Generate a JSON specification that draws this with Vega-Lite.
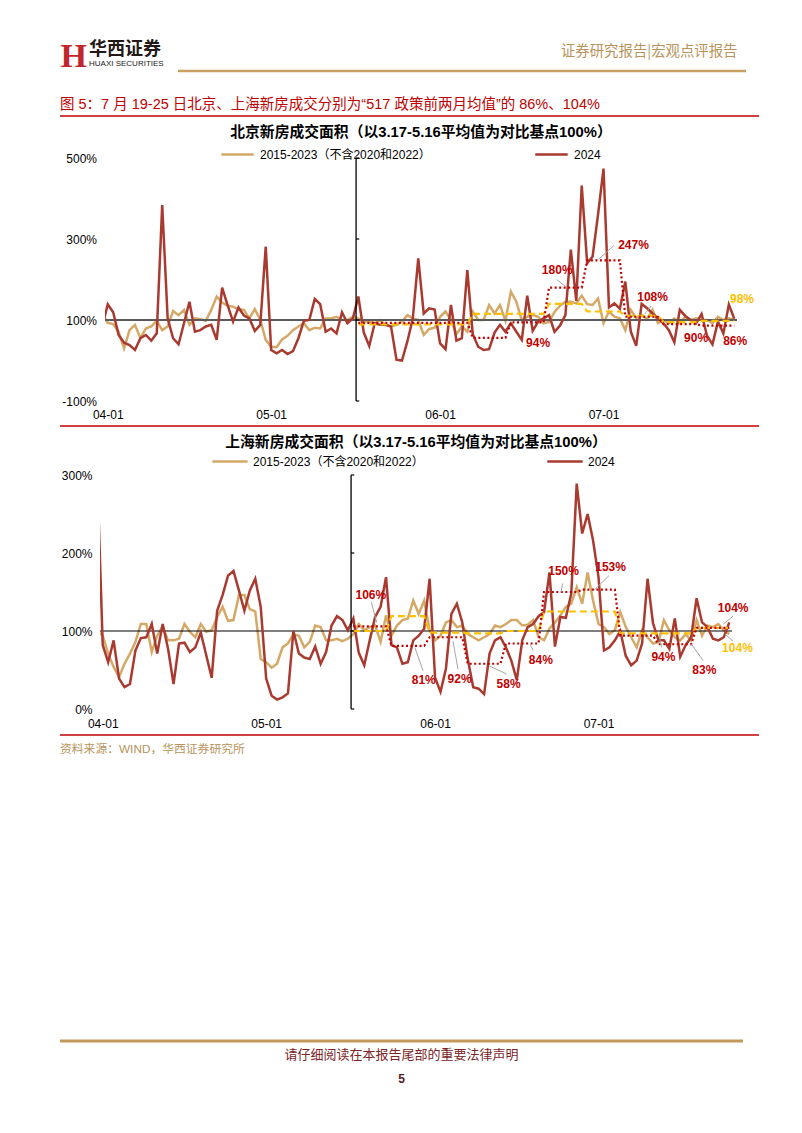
{
"$schema": "https://vega.github.io/schema/vega-lite/v6.json",
"background": "#ffffff",
"padding": {"left": 58, "top": 37, "right": 5, "bottom": 5},
"spacing": 20,
"columns": 1,
"align": "none",
"config": {
  "view": {"stroke": null},
  "font": "Liberation Sans, Noto Sans CJK SC",
  "axis": {"grid": false, "domain": false, "ticks": false, "labelFont": "Liberation Sans, Noto Sans CJK SC", "labelFontSize": 12, "labelColor": "#000000"},
  "title": {"font": "Liberation Sans, Noto Sans CJK SC"}
},
"datasets": {
  "bj": [
{"date":"2024-03-31","hist":115,"y2024":83},{"date":"2024-04-01","hist":93,"y2024":139},{"date":"2024-04-02","hist":90,"y2024":119},{"date":"2024-04-03","hist":71,"y2024":63},{"date":"2024-04-04","hist":30,"y2024":44},{"date":"2024-04-05","hist":75,"y2024":38},{"date":"2024-04-06","hist":88,"y2024":26},{"date":"2024-04-07","hist":55,"y2024":55},{"date":"2024-04-08","hist":79,"y2024":63},{"date":"2024-04-09","hist":84,"y2024":49},{"date":"2024-04-10","hist":98,"y2024":67},{"date":"2024-04-11","hist":75,"y2024":384},{"date":"2024-04-12","hist":84,"y2024":104},{"date":"2024-04-13","hist":122,"y2024":55},{"date":"2024-04-14","hist":112,"y2024":40},{"date":"2024-04-15","hist":125,"y2024":92},{"date":"2024-04-16","hist":88,"y2024":145},{"date":"2024-04-17","hist":104,"y2024":71},{"date":"2024-04-18","hist":102,"y2024":75},{"date":"2024-04-19","hist":98,"y2024":84},{"date":"2024-04-20","hist":125,"y2024":88},{"date":"2024-04-21","hist":158,"y2024":51},{"date":"2024-04-22","hist":143,"y2024":180},{"date":"2024-04-23","hist":135,"y2024":137},{"date":"2024-04-24","hist":133,"y2024":96},{"date":"2024-04-25","hist":126,"y2024":131},{"date":"2024-04-26","hist":125,"y2024":111},{"date":"2024-04-27","hist":104,"y2024":104},{"date":"2024-04-28","hist":127,"y2024":73},{"date":"2024-04-29","hist":100,"y2024":88},{"date":"2024-04-30","hist":51,"y2024":281},
{"date":"2024-05-01","hist":34,"y2024":26},{"date":"2024-05-02","hist":33,"y2024":18},{"date":"2024-05-03","hist":52,"y2024":26},{"date":"2024-05-04","hist":61,"y2024":16},{"date":"2024-05-05","hist":75,"y2024":23},{"date":"2024-05-06","hist":84,"y2024":55},{"date":"2024-05-07","hist":92,"y2024":98},{"date":"2024-05-08","hist":75,"y2024":100},{"date":"2024-05-09","hist":81,"y2024":152},{"date":"2024-05-10","hist":79,"y2024":139},{"date":"2024-05-11","hist":104,"y2024":71},{"date":"2024-05-12","hist":104,"y2024":79},{"date":"2024-05-13","hist":108,"y2024":67},{"date":"2024-05-14","hist":100,"y2024":119},{"date":"2024-05-15","hist":100,"y2024":92},{"date":"2024-05-16","hist":108,"y2024":104},{"date":"2024-05-17","hist":104,"y2024":158},{"date":"2024-05-18","hist":96,"y2024":69},{"date":"2024-05-19","hist":96,"y2024":36},{"date":"2024-05-20","hist":92,"y2024":92},{"date":"2024-05-21","hist":100,"y2024":88},{"date":"2024-05-22","hist":88,"y2024":88},{"date":"2024-05-23","hist":84,"y2024":84},{"date":"2024-05-24","hist":88,"y2024":2},{"date":"2024-05-25","hist":96,"y2024":0},{"date":"2024-05-26","hist":112,"y2024":47},{"date":"2024-05-27","hist":104,"y2024":104},{"date":"2024-05-28","hist":100,"y2024":252},{"date":"2024-05-29","hist":63,"y2024":116},{"date":"2024-05-30","hist":78,"y2024":129},{"date":"2024-05-31","hist":81,"y2024":126},
{"date":"2024-06-01","hist":108,"y2024":42},{"date":"2024-06-02","hist":121,"y2024":28},{"date":"2024-06-03","hist":100,"y2024":137},{"date":"2024-06-04","hist":65,"y2024":49},{"date":"2024-06-05","hist":84,"y2024":55},{"date":"2024-06-06","hist":71,"y2024":223},{"date":"2024-06-07","hist":121,"y2024":65},{"date":"2024-06-08","hist":100,"y2024":34},{"date":"2024-06-09","hist":100,"y2024":26},{"date":"2024-06-10","hist":137,"y2024":28},{"date":"2024-06-11","hist":116,"y2024":69},{"date":"2024-06-12","hist":137,"y2024":88},{"date":"2024-06-13","hist":98,"y2024":71},{"date":"2024-06-14","hist":170,"y2024":92},{"date":"2024-06-15","hist":145,"y2024":71},{"date":"2024-06-16","hist":100,"y2024":51},{"date":"2024-06-17","hist":108,"y2024":160},{"date":"2024-06-18","hist":112,"y2024":73},{"date":"2024-06-19","hist":108,"y2024":96},{"date":"2024-06-20","hist":92,"y2024":104},{"date":"2024-06-21","hist":95,"y2024":112},{"date":"2024-06-22","hist":120,"y2024":71},{"date":"2024-06-23","hist":135,"y2024":86},{"date":"2024-06-24","hist":145,"y2024":112},{"date":"2024-06-25","hist":145,"y2024":274},{"date":"2024-06-26","hist":141,"y2024":147},{"date":"2024-06-27","hist":160,"y2024":432},{"date":"2024-06-28","hist":139,"y2024":240},{"date":"2024-06-29","hist":137,"y2024":257},{"date":"2024-06-30","hist":153,"y2024":361},
{"date":"2024-07-01","hist":92,"y2024":474},{"date":"2024-07-02","hist":121,"y2024":131},{"date":"2024-07-03","hist":108,"y2024":141},{"date":"2024-07-04","hist":104,"y2024":128},{"date":"2024-07-05","hist":75,"y2024":195},{"date":"2024-07-06","hist":125,"y2024":72},{"date":"2024-07-07","hist":104,"y2024":36},{"date":"2024-07-08","hist":112,"y2024":140},{"date":"2024-07-09","hist":102,"y2024":129},{"date":"2024-07-10","hist":125,"y2024":116},{"date":"2024-07-11","hist":92,"y2024":104},{"date":"2024-07-12","hist":100,"y2024":92},{"date":"2024-07-13","hist":92,"y2024":75},{"date":"2024-07-14","hist":104,"y2024":45},{"date":"2024-07-15","hist":92,"y2024":125},{"date":"2024-07-16","hist":108,"y2024":110},{"date":"2024-07-17","hist":100,"y2024":100},{"date":"2024-07-18","hist":104,"y2024":92},{"date":"2024-07-19","hist":100,"y2024":115},{"date":"2024-07-20","hist":100,"y2024":61},{"date":"2024-07-21","hist":92,"y2024":40},{"date":"2024-07-22","hist":108,"y2024":96},{"date":"2024-07-23","hist":100,"y2024":67},{"date":"2024-07-24","hist":104,"y2024":138},{"date":"2024-07-25","hist":100,"y2024":103}
  ],
  "sh": [
{"date":"2024-03-31","hist":100,"y2024":300},{"date":"2024-04-01","hist":94,"y2024":82},{"date":"2024-04-02","hist":71,"y2024":60},{"date":"2024-04-03","hist":54,"y2024":88},{"date":"2024-04-04","hist":41,"y2024":39},{"date":"2024-04-05","hist":58,"y2024":28},{"date":"2024-04-06","hist":71,"y2024":32},{"date":"2024-04-07","hist":86,"y2024":75},{"date":"2024-04-08","hist":109,"y2024":91},{"date":"2024-04-09","hist":109,"y2024":92},{"date":"2024-04-10","hist":73,"y2024":109},{"date":"2024-04-11","hist":94,"y2024":71},{"date":"2024-04-12","hist":106,"y2024":109},{"date":"2024-04-13","hist":88,"y2024":77},{"date":"2024-04-14","hist":88,"y2024":32},{"date":"2024-04-15","hist":90,"y2024":84},{"date":"2024-04-16","hist":109,"y2024":85},{"date":"2024-04-17","hist":99,"y2024":73},{"date":"2024-04-18","hist":92,"y2024":79},{"date":"2024-04-19","hist":109,"y2024":98},{"date":"2024-04-20","hist":99,"y2024":69},{"date":"2024-04-21","hist":101,"y2024":40},{"date":"2024-04-22","hist":118,"y2024":126},{"date":"2024-04-23","hist":131,"y2024":146},{"date":"2024-04-24","hist":113,"y2024":171},{"date":"2024-04-25","hist":114,"y2024":177},{"date":"2024-04-26","hist":146,"y2024":152},{"date":"2024-04-27","hist":146,"y2024":126},{"date":"2024-04-28","hist":128,"y2024":152},{"date":"2024-04-29","hist":125,"y2024":167},{"date":"2024-04-30","hist":64,"y2024":131},
{"date":"2024-05-01","hist":60,"y2024":39},{"date":"2024-05-02","hist":53,"y2024":17},{"date":"2024-05-03","hist":58,"y2024":12},{"date":"2024-05-04","hist":79,"y2024":15},{"date":"2024-05-05","hist":84,"y2024":20},{"date":"2024-05-06","hist":96,"y2024":100},{"date":"2024-05-07","hist":94,"y2024":71},{"date":"2024-05-08","hist":79,"y2024":66},{"date":"2024-05-09","hist":86,"y2024":64},{"date":"2024-05-10","hist":107,"y2024":80},{"date":"2024-05-11","hist":105,"y2024":58},{"date":"2024-05-12","hist":88,"y2024":73},{"date":"2024-05-13","hist":88,"y2024":107},{"date":"2024-05-14","hist":90,"y2024":119},{"date":"2024-05-15","hist":87,"y2024":114},{"date":"2024-05-16","hist":90,"y2024":101},{"date":"2024-05-17","hist":96,"y2024":116},{"date":"2024-05-18","hist":109,"y2024":72},{"date":"2024-05-19","hist":101,"y2024":56},{"date":"2024-05-20","hist":105,"y2024":88},{"date":"2024-05-21","hist":107,"y2024":118},{"date":"2024-05-22","hist":86,"y2024":131},{"date":"2024-05-23","hist":120,"y2024":169},{"date":"2024-05-24","hist":94,"y2024":82},{"date":"2024-05-25","hist":107,"y2024":79},{"date":"2024-05-26","hist":114,"y2024":58},{"date":"2024-05-27","hist":116,"y2024":60},{"date":"2024-05-28","hist":139,"y2024":88},{"date":"2024-05-29","hist":122,"y2024":94},{"date":"2024-05-30","hist":139,"y2024":103},{"date":"2024-05-31","hist":101,"y2024":167},
{"date":"2024-06-01","hist":88,"y2024":40},{"date":"2024-06-02","hist":94,"y2024":22},{"date":"2024-06-03","hist":111,"y2024":52},{"date":"2024-06-04","hist":114,"y2024":122},{"date":"2024-06-05","hist":105,"y2024":135},{"date":"2024-06-06","hist":107,"y2024":111},{"date":"2024-06-07","hist":96,"y2024":64},{"date":"2024-06-08","hist":92,"y2024":28},{"date":"2024-06-09","hist":88,"y2024":26},{"date":"2024-06-10","hist":92,"y2024":19},{"date":"2024-06-11","hist":96,"y2024":71},{"date":"2024-06-12","hist":107,"y2024":88},{"date":"2024-06-13","hist":105,"y2024":92},{"date":"2024-06-14","hist":109,"y2024":79},{"date":"2024-06-15","hist":114,"y2024":62},{"date":"2024-06-16","hist":114,"y2024":37},{"date":"2024-06-17","hist":107,"y2024":88},{"date":"2024-06-18","hist":108,"y2024":105},{"date":"2024-06-19","hist":114,"y2024":109},{"date":"2024-06-20","hist":92,"y2024":119},{"date":"2024-06-21","hist":88,"y2024":124},{"date":"2024-06-22","hist":103,"y2024":175},{"date":"2024-06-23","hist":111,"y2024":80},{"date":"2024-06-24","hist":120,"y2024":118},{"date":"2024-06-25","hist":131,"y2024":117},{"date":"2024-06-26","hist":135,"y2024":148},{"date":"2024-06-27","hist":156,"y2024":289},{"date":"2024-06-28","hist":135,"y2024":225},{"date":"2024-06-29","hist":175,"y2024":250},{"date":"2024-06-30","hist":139,"y2024":216},
{"date":"2024-07-01","hist":109,"y2024":169},{"date":"2024-07-02","hist":105,"y2024":75},{"date":"2024-07-03","hist":96,"y2024":79},{"date":"2024-07-04","hist":101,"y2024":88},{"date":"2024-07-05","hist":124,"y2024":100},{"date":"2024-07-06","hist":105,"y2024":68},{"date":"2024-07-07","hist":92,"y2024":56},{"date":"2024-07-08","hist":79,"y2024":62},{"date":"2024-07-09","hist":101,"y2024":84},{"date":"2024-07-10","hist":92,"y2024":167},{"date":"2024-07-11","hist":84,"y2024":110},{"date":"2024-07-12","hist":86,"y2024":88},{"date":"2024-07-13","hist":114,"y2024":88},{"date":"2024-07-14","hist":101,"y2024":77},{"date":"2024-07-15","hist":92,"y2024":116},{"date":"2024-07-16","hist":88,"y2024":67},{"date":"2024-07-17","hist":96,"y2024":82},{"date":"2024-07-18","hist":88,"y2024":92},{"date":"2024-07-19","hist":114,"y2024":142},{"date":"2024-07-20","hist":94,"y2024":111},{"date":"2024-07-21","hist":107,"y2024":105},{"date":"2024-07-22","hist":105,"y2024":90},{"date":"2024-07-23","hist":109,"y2024":88},{"date":"2024-07-24","hist":101,"y2024":92},{"date":"2024-07-25","hist":96,"y2024":111}
  ],
  "bjStep": [
{"date":"2024-05-17","hist":89,"y2024":93},{"date":"2024-06-06","hist":89,"y2024":93},
{"date":"2024-06-07","hist":115,"y2024":56},{"date":"2024-06-13","hist":115,"y2024":56},
{"date":"2024-06-14","hist":115,"y2024":94},{"date":"2024-06-20","hist":115,"y2024":94},
{"date":"2024-06-21","hist":140,"y2024":180},{"date":"2024-06-27","hist":140,"y2024":180},
{"date":"2024-06-28","hist":121,"y2024":247},{"date":"2024-07-04","hist":121,"y2024":247},
{"date":"2024-07-05","hist":110,"y2024":108},{"date":"2024-07-11","hist":110,"y2024":108},
{"date":"2024-07-12","hist":95,"y2024":90},{"date":"2024-07-18","hist":95,"y2024":90},
{"date":"2024-07-19","hist":98,"y2024":86},{"date":"2024-07-25","hist":98,"y2024":86}
  ],
  "shStep": [
{"date":"2024-05-17","hist":100,"y2024":106},{"date":"2024-05-23","hist":100,"y2024":106},
{"date":"2024-05-24","hist":119,"y2024":81},{"date":"2024-05-30","hist":119,"y2024":81},
{"date":"2024-05-31","hist":98,"y2024":92},{"date":"2024-06-06","hist":98,"y2024":92},
{"date":"2024-06-07","hist":97,"y2024":58},{"date":"2024-06-13","hist":97,"y2024":58},
{"date":"2024-06-14","hist":100,"y2024":84},{"date":"2024-06-20","hist":100,"y2024":84},
{"date":"2024-06-21","hist":125,"y2024":150},{"date":"2024-06-27","hist":125,"y2024":150},
{"date":"2024-06-28","hist":125,"y2024":153},{"date":"2024-07-04","hist":125,"y2024":153},
{"date":"2024-07-05","hist":97,"y2024":94},{"date":"2024-07-11","hist":97,"y2024":94},
{"date":"2024-07-12","hist":97,"y2024":83},{"date":"2024-07-18","hist":97,"y2024":83},
{"date":"2024-07-19","hist":104,"y2024":104},{"date":"2024-07-25","hist":104,"y2024":104}
  ],
  "bjLab": [
{"date":"2024-06-22T12:00:00Z","v":223,"text":"180%","s":"2024"},
{"date":"2024-07-06T12:00:00Z","v":285,"text":"247%","s":"2024"},
{"date":"2024-07-10T00:00:00Z","v":157,"text":"108%","s":"2024"},
{"date":"2024-06-19T00:00:00Z","v":43,"text":"94%","s":"2024"},
{"date":"2024-07-18T00:00:00Z","v":56,"text":"90%","s":"2024"},
{"date":"2024-07-25T04:00:00Z","v":49,"text":"86%","s":"2024"},
{"date":"2024-07-26T10:00:00Z","v":152,"text":"98%","s":"hist"}
  ],
  "bjLead": [
{"date":"2024-06-22T10:00:00Z","v":200,"date2":"2024-06-24T02:00:00Z","v2":182},
{"date":"2024-07-02T22:00:00Z","v":284,"date2":"2024-06-30T02:00:00Z","v2":250},
{"date":"2024-07-09T19:00:00Z","v":135,"date2":"2024-07-08T14:00:00Z","v2":115}
  ],
  "shLab": [
{"date":"2024-05-20T05:00:00Z","v":146,"text":"106%","s":"2024"},
{"date":"2024-05-29T22:00:00Z","v":37,"text":"81%","s":"2024"},
{"date":"2024-06-05T12:00:00Z","v":38,"text":"92%","s":"2024"},
{"date":"2024-06-14T12:00:00Z","v":32,"text":"58%","s":"2024"},
{"date":"2024-06-20T10:00:00Z","v":63,"text":"84%","s":"2024"},
{"date":"2024-06-24T14:00:00Z","v":177,"text":"150%","s":"2024"},
{"date":"2024-07-03T05:00:00Z","v":182,"text":"153%","s":"2024"},
{"date":"2024-07-12T22:00:00Z","v":67,"text":"94%","s":"2024"},
{"date":"2024-07-20T10:00:00Z","v":50,"text":"83%","s":"2024"},
{"date":"2024-07-25T17:00:00Z","v":129,"text":"104%","s":"2024"},
{"date":"2024-07-26T12:00:00Z","v":78,"text":"104%","s":"hist"}
  ],
  "shLead": [
{"date":"2024-05-20T07:00:00Z","v":137,"date2":"2024-05-21T07:00:00Z","v2":111},
{"date":"2024-05-29T19:00:00Z","v":49,"date2":"2024-05-28T07:00:00Z","v2":79},
{"date":"2024-06-05T05:00:00Z","v":51,"date2":"2024-06-04T07:00:00Z","v2":87},
{"date":"2024-06-14T02:00:00Z","v":45,"date2":"2024-06-11T00:00:00Z","v2":55},
{"date":"2024-06-19T00:00:00Z","v":75,"date2":"2024-06-18T10:00:00Z","v2":83},
{"date":"2024-06-24T10:00:00Z","v":161,"date2":"2024-06-24T02:00:00Z","v2":149},
{"date":"2024-07-02T22:00:00Z","v":171,"date2":"2024-06-30T00:00:00Z","v2":151},
{"date":"2024-07-12T14:00:00Z","v":79,"date2":"2024-07-12T05:00:00Z","v2":92},
{"date":"2024-07-20T05:00:00Z","v":62,"date2":"2024-07-18T02:00:00Z","v2":83},
{"date":"2024-07-25T17:00:00Z","v":119,"date2":"2024-07-23T22:00:00Z","v2":109},
{"date":"2024-07-25T17:00:00Z","v":87,"date2":"2024-07-24T05:00:00Z","v2":96}
  ],
  "bjTicks": [{"v":-100},{"v":100},{"v":300},{"v":500}],
  "shTicks": [{"v":0},{"v":100},{"v":200},{"v":300}]
},
"concat": [
{
  "spacing": 12,
  "hconcat": [
    {
      "width": 104, "height": 34,
      "data": {"values": [{}]},
      "mark": {"type": "text", "text": ""},
      "encoding": {
        "y": {"datum": 0, "type": "quantitative", "scale": {"domain": [0, 1]}, "axis": {"orient": "left", "labels": false, "minExtent": 0, "title": "H", "titleAngle": 0, "titleAlign": "left", "titleBaseline": "alphabetic", "titleX": 0, "titleY": 29, "titleFont": "Liberation Serif", "titleFontSize": 34, "titleFontWeight": "bold", "titleColor": "#C0272D"}}
      },
      "title": {"text": "华西证券", "subtitle": "HUAXI SECURITIES", "anchor": "start", "frame": "group", "dx": 29, "offset": -31, "font": "Noto Sans CJK SC", "fontSize": 18, "fontWeight": "bold", "color": "#231815", "subtitleFont": "Liberation Sans", "subtitleFontSize": 8, "subtitleColor": "#231815", "subtitlePadding": 1}
    },
    {
      "width": 568, "height": 34,
      "data": {"values": [{}]},
      "mark": {"type": "rule", "color": "#C8A062", "strokeWidth": 2.5},
      "encoding": {
        "x": {"datum": 0, "type": "quantitative", "scale": {"domain": [0, 1]}, "axis": {"orient": "bottom", "labels": false, "title": "证券研究报告|宏观点评报告", "titleAlign": "right", "titleX": 559, "titleBaseline": "bottom", "titleY": -13, "titleColor": "#B8935A", "titleFont": "Noto Sans CJK SC", "titleFontSize": 14.4, "titleFontWeight": "normal"}},
        "x2": {"datum": 1},
        "y": {"datum": 0, "type": "quantitative", "scale": {"domain": [0, 1]}, "axis": null}
      }
    }
  ]
},
{
  "spacing": 4,
  "columns": 1,
  "align": "none",
  "resolve": {"scale": {"color": "independent"}, "legend": {"color": "independent"}},
  "concat": [
  {
    "width": 699, "height": 5,
    "data": {"values": [{}]},
    "mark": {"type": "rule", "color": "#C00000", "strokeWidth": 1.5},
    "encoding": {"y": {"datum": 1, "type": "quantitative", "scale": {"domain": [0, 1]}, "axis": null}},
    "title": {"text": "图 5：7 月 19-25 日北京、上海新房成交分别为“517 政策前两月均值”的 86%、104%", "anchor": "start", "frame": "group", "fontSize": 14.5, "fontWeight": "normal", "color": "#C00000", "offset": 3}
  },
  {
    "spacing": 0,
    "resolve": {"scale": {"color": "independent"}, "legend": {"color": "independent"}},
    "hconcat": [
    {
      "width": 1, "height": 1,
      "data": {"values": [{}]},
      "mark": {"type": "text", "text": ""},
      "encoding": {}
    },
    {
    "width": 632, "height": 243,
    "title": {"text": "北京新房成交面积（以3.17-5.16平均值为对比基点100%）", "anchor": "middle", "frame": "group", "fontSize": 14.8, "fontWeight": "bold", "color": "#000000", "offset": -3.2},
    "layer": [
      {
        "data": {"name": "bj"},
        "mark": {"type": "line", "strokeWidth": 2.5, "clip": true},
        "encoding": {
          "x": {"field": "date", "type": "temporal", "title": null,
                "scale": {"type": "utc", "domain": [{"year": 2024, "month": 3, "date": 31, "hours": 12, "utc": true}, {"year": 2024, "month": 7, "date": 25, "hours": 12, "utc": true}]},
                "axis": {"values": [{"year": 2024, "month": 4, "date": 1, "utc": true}, {"year": 2024, "month": 5, "date": 1, "utc": true}, {"year": 2024, "month": 6, "date": 1, "utc": true}, {"year": 2024, "month": 7, "date": 1, "utc": true}], "format": "%m-%d", "labelPadding": 8.5, "title": null}},
          "y": {"field": "hist", "type": "quantitative", "title": null,
                "scale": {"domain": [-100, 500], "nice": false, "zero": false},
                "axis": {"values": [-100, 100, 300, 500], "labelExpr": "datum.value + '%'", "labelPadding": 8.5, "title": null}},
          "color": {"datum": "2015-2023（不含2020和2022）",
                    "scale": {"domain": ["2015-2023（不含2020和2022）", "2024"], "range": ["#D4A967", "#A93A2F"]},
                    "legend": {"orient": "none", "legendX": 115, "legendY": -21.2, "direction": "horizontal", "title": null, "symbolType": "stroke", "symbolSize": 1050, "symbolStrokeWidth": 2.5, "labelFontSize": 12, "labelFont": "Liberation Sans, Noto Sans CJK SC", "labelColor": "#000000", "labelLimit": 400, "columnPadding": 99, "labelOffset": 5}}
        }
      },
      {
        "data": {"values": [{}]},
        "mark": {"type": "rule", "color": "#5A5A5A", "strokeWidth": 1.8},
        "encoding": {"y": {"datum": 100, "type": "quantitative"}}
      },
      {
        "data": {"name": "bj"},
        "mark": {"type": "line", "strokeWidth": 2.5, "clip": true},
        "encoding": {
          "x": {"field": "date", "type": "temporal", "title": null},
          "y": {"field": "y2024", "type": "quantitative", "title": null},
          "color": {"datum": "2024"}
        }
      },
      {
        "data": {"name": "bjStep"},
        "mark": {"type": "line", "color": "#FFC000", "strokeWidth": 2.2, "strokeDash": [7, 4]},
        "encoding": {"x": {"field": "date", "type": "temporal", "title": null}, "y": {"field": "hist", "type": "quantitative", "title": null}}
      },
      {
        "data": {"name": "bjStep"},
        "mark": {"type": "line", "color": "#C00000", "strokeWidth": 2.2, "strokeDash": [2, 2.5]},
        "encoding": {"x": {"field": "date", "type": "temporal", "title": null}, "y": {"field": "y2024", "type": "quantitative", "title": null}}
      },
      {
        "data": {"values": [{}]},
        "mark": {"type": "rule", "color": "#000000", "strokeWidth": 1.3},
        "encoding": {
          "x": {"datum": {"year": 2024, "month": 5, "date": 16, "hours": 14, "utc": true}, "type": "temporal"},
          "y": {"datum": -100, "type": "quantitative"},
          "y2": {"datum": 500}
        }
      },
      {
        "data": {"name": "bjTicks"},
        "mark": {"type": "rule", "color": "#000000", "strokeWidth": 1.2},
        "encoding": {
          "x": {"datum": {"year": 2024, "month": 5, "date": 16, "hours": 14, "utc": true}, "type": "temporal"},
          "x2": {"datum": {"year": 2024, "month": 5, "date": 17, "hours": 4, "utc": true}},
          "y": {"field": "v", "type": "quantitative", "title": null}
        }
      },
      {
        "data": {"name": "bjLead"},
        "mark": {"type": "rule", "color": "#A6A6A6", "strokeWidth": 1},
        "encoding": {
          "x": {"field": "date", "type": "temporal", "title": null}, "x2": {"field": "date2"},
          "y": {"field": "v", "type": "quantitative", "title": null}, "y2": {"field": "v2"}
        }
      },
      {
        "data": {"name": "bjLab"},
        "transform": [{"filter": "datum.s == '2024'"}],
        "mark": {"type": "text", "color": "#C00000", "fontWeight": "bold", "fontSize": 12, "font": "Liberation Sans"},
        "encoding": {"x": {"field": "date", "type": "temporal", "title": null}, "y": {"field": "v", "type": "quantitative", "title": null}, "text": {"field": "text"}}
      },
      {
        "data": {"name": "bjLab"},
        "transform": [{"filter": "datum.s == 'hist'"}],
        "mark": {"type": "text", "color": "#FFC000", "fontWeight": "bold", "fontSize": 12, "font": "Liberation Sans"},
        "encoding": {"x": {"field": "date", "type": "temporal", "title": null}, "y": {"field": "v", "type": "quantitative", "title": null}, "text": {"field": "text"}}
      }
    ]
    }
    ]
  },
  {
    "width": 699, "height": 3.5,
    "data": {"values": [{}]},
    "mark": {"type": "rule", "color": "#C00000", "strokeWidth": 1.5},
    "encoding": {"y": {"datum": 1, "type": "quantitative", "scale": {"domain": [0, 1]}, "axis": null}}
  },
  {
    "spacing": 0,
    "resolve": {"scale": {"color": "independent"}, "legend": {"color": "independent"}},
    "hconcat": [
    {
      "width": 1, "height": 1,
      "data": {"values": [{}]},
      "mark": {"type": "text", "text": ""},
      "encoding": {}
    },
    {
    "width": 632, "height": 234,
    "title": {"text": "上海新房成交面积（以3.17-5.16平均值为对比基点100%）", "anchor": "middle", "frame": "group", "fontSize": 14.8, "fontWeight": "bold", "color": "#000000", "offset": -6.7},
    "layer": [
      {
        "data": {"name": "sh"},
        "mark": {"type": "line", "strokeWidth": 2.5, "clip": true},
        "encoding": {
          "x": {"field": "date", "type": "temporal", "title": null,
                "scale": {"type": "utc", "domain": [{"year": 2024, "month": 3, "date": 31, "hours": 12, "utc": true}, {"year": 2024, "month": 7, "date": 25, "hours": 12, "utc": true}]},
                "axis": {"values": [{"year": 2024, "month": 4, "date": 1, "utc": true}, {"year": 2024, "month": 5, "date": 1, "utc": true}, {"year": 2024, "month": 6, "date": 1, "utc": true}, {"year": 2024, "month": 7, "date": 1, "utc": true}], "format": "%m-%d", "labelPadding": 9.5, "title": null}},
          "y": {"field": "hist", "type": "quantitative", "title": null,
                "scale": {"domain": [0, 300], "nice": false},
                "axis": {"values": [0, 100, 200, 300], "labelExpr": "datum.value + '%'", "labelPadding": 8, "title": null}},
          "color": {"datum": "2015-2023（不含2020和2022）",
                    "scale": {"domain": ["2015-2023（不含2020和2022）", "2024"], "range": ["#D4A967", "#A93A2F"]},
                    "legend": {"orient": "none", "legendX": 111, "legendY": -32.4, "direction": "horizontal", "title": null, "symbolType": "stroke", "symbolSize": 1250, "symbolStrokeWidth": 2.5, "labelFontSize": 12, "labelFont": "Liberation Sans, Noto Sans CJK SC", "labelColor": "#000000", "labelLimit": 400, "columnPadding": 118, "labelOffset": 4}}
        }
      },
      {
        "data": {"values": [{}]},
        "mark": {"type": "rule", "color": "#000000", "strokeWidth": 1.2},
        "encoding": {"y": {"datum": 100, "type": "quantitative"}}
      },
      {
        "data": {"name": "sh"},
        "mark": {"type": "line", "strokeWidth": 2.5, "clip": true},
        "encoding": {
          "x": {"field": "date", "type": "temporal", "title": null},
          "y": {"field": "y2024", "type": "quantitative", "title": null},
          "color": {"datum": "2024"}
        }
      },
      {
        "data": {"name": "shStep"},
        "mark": {"type": "line", "color": "#FFC000", "strokeWidth": 2.2, "strokeDash": [7, 4]},
        "encoding": {"x": {"field": "date", "type": "temporal", "title": null}, "y": {"field": "hist", "type": "quantitative", "title": null}}
      },
      {
        "data": {"name": "shStep"},
        "mark": {"type": "line", "color": "#C00000", "strokeWidth": 2.2, "strokeDash": [2, 2.5]},
        "encoding": {"x": {"field": "date", "type": "temporal", "title": null}, "y": {"field": "y2024", "type": "quantitative", "title": null}}
      },
      {
        "data": {"values": [{}]},
        "mark": {"type": "rule", "color": "#000000", "strokeWidth": 1.3},
        "encoding": {
          "x": {"datum": {"year": 2024, "month": 5, "date": 16, "hours": 14, "utc": true}, "type": "temporal"},
          "y": {"datum": 0, "type": "quantitative"},
          "y2": {"datum": 300}
        }
      },
      {
        "data": {"name": "shTicks"},
        "mark": {"type": "rule", "color": "#000000", "strokeWidth": 1.2},
        "encoding": {
          "x": {"datum": {"year": 2024, "month": 5, "date": 16, "hours": 14, "utc": true}, "type": "temporal"},
          "x2": {"datum": {"year": 2024, "month": 5, "date": 17, "hours": 4, "utc": true}},
          "y": {"field": "v", "type": "quantitative", "title": null}
        }
      },
      {
        "data": {"name": "shLead"},
        "mark": {"type": "rule", "color": "#A6A6A6", "strokeWidth": 1},
        "encoding": {
          "x": {"field": "date", "type": "temporal", "title": null}, "x2": {"field": "date2"},
          "y": {"field": "v", "type": "quantitative", "title": null}, "y2": {"field": "v2"}
        }
      },
      {
        "data": {"name": "shLab"},
        "transform": [{"filter": "datum.s == '2024'"}],
        "mark": {"type": "text", "color": "#C00000", "fontWeight": "bold", "fontSize": 12, "font": "Liberation Sans"},
        "encoding": {"x": {"field": "date", "type": "temporal", "title": null}, "y": {"field": "v", "type": "quantitative", "title": null}, "text": {"field": "text"}}
      },
      {
        "data": {"name": "shLab"},
        "transform": [{"filter": "datum.s == 'hist'"}],
        "mark": {"type": "text", "color": "#FFC000", "fontWeight": "bold", "fontSize": 12, "font": "Liberation Sans"},
        "encoding": {"x": {"field": "date", "type": "temporal", "title": null}, "y": {"field": "v", "type": "quantitative", "title": null}, "text": {"field": "text"}}
      }
    ]
    }
    ]
  },
  {
    "width": 699, "height": 1,
    "data": {"values": [{}]},
    "mark": {"type": "rule", "color": "#C00000", "strokeWidth": 1.5},
    "encoding": {"y": {"datum": 1, "type": "quantitative", "scale": {"domain": [0, 1]}, "axis": null}},
    "title": {"text": "资料来源：WIND，华西证券研究所", "orient": "bottom", "anchor": "start", "frame": "group", "fontSize": 11.8, "fontWeight": "normal", "color": "#B8935A", "offset": 8}
  }
  ]
},
{
  "width": 683, "height": 265,
  "data": {"values": [{}]},
  "mark": {"type": "rule", "color": "#C49A5C", "strokeWidth": 3},
  "encoding": {"y": {"datum": 0, "type": "quantitative", "scale": {"domain": [0, 1]}, "axis": null}},
  "title": {"text": "请仔细阅读在本报告尾部的重要法律声明", "subtitle": "5", "orient": "bottom", "anchor": "middle", "frame": "group", "offset": 6, "font": "Noto Sans CJK SC", "fontSize": 13, "fontWeight": "normal", "color": "#7A2426", "subtitleFont": "Liberation Sans", "subtitleFontSize": 12, "subtitleFontWeight": "bold", "subtitleColor": "#5A1A1A", "subtitlePadding": 12}
}
]
}
